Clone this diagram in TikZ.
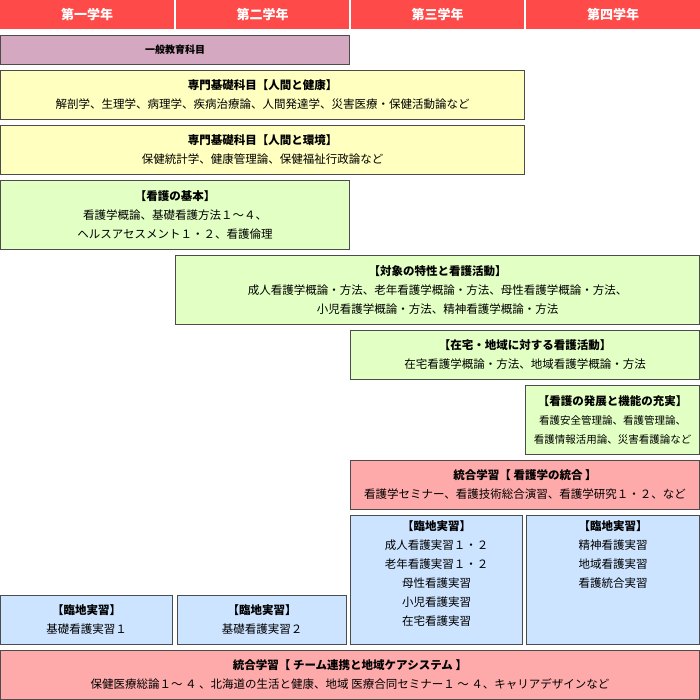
\documentclass[tikz,border=0pt]{standalone}
\usepackage{fontspec}
\setmainfont{Noto Sans CJK JP}
\usetikzlibrary{positioning}
\definecolor{hdred}{HTML}{FF4A4A}
\definecolor{genpink}{HTML}{D5A8C2}
\definecolor{kisoyel}{HTML}{FFFFC0}
\definecolor{kgreen}{HTML}{E2FFC4}
\definecolor{togopink}{HTML}{FFAAAA}
\definecolor{jisblue}{HTML}{CCE4FF}
\tikzset{
  hdr/.style={fill=hdred,text=white,font=\bfseries\fontsize{13}{15}\selectfont},
  course/.style={draw=black!70,line width=0.8pt,align=center,font=\fontsize{11.5}{19}\selectfont},
}
\newcommand{\cbox}[6]{% name, x1, y1, x2, y2, style
  \draw[course,#6] (#2,#3) rectangle (#4,#5);
  \coordinate (#1) at ({(#2+#4)/2},{(#3+#5)/2});}
\begin{document}
\begin{tikzpicture}[x=1pt,y=-1pt]
\useasboundingbox (0,0) rectangle (700,700);
% header
\foreach \xa/\xb/\lab [count=\i] in {0/174/第一学年,176/349/第二学年,351/524/第三学年,526/700/第四学年}
  \node[hdr,minimum width={\xb-\xa},minimum height=29,inner sep=0] (year\i) at ({(\xa+\xb)/2},14.5) {\lab};
% courses
\cbox{gen}{0.5}{35.5}{349.5}{64.5}{fill=genpink}
\node (gentext) at (gen) {\bfseries 一般教育科目};
\cbox{kenko}{0.5}{70.5}{524.5}{119.5}{fill=kisoyel}
\node[course,draw=none] (kenkotext) at (kenko) {\bfseries 専門基礎科目【人間と健康】\\解剖学、生理学、病理学、疾病治療論、人間発達学、災害医療・保健活動論など};
\cbox{kankyo}{0.5}{125.5}{524.5}{174.5}{fill=kisoyel}
\node[course,draw=none] (kankyotext) at (kankyo) {\bfseries 専門基礎科目【人間と環境】\\保健統計学、健康管理論、保健福祉行政論など};
\cbox{kihon}{0.5}{180.5}{349.5}{249.5}{fill=kgreen}
\node[course,draw=none] (kihontext) at (kihon) {\bfseries【看護の基本】\\看護学概論、基礎看護方法１～４、\\ヘルスアセスメント１・２、看護倫理};
\cbox{taisho}{175.5}{255.5}{699.5}{324.5}{fill=kgreen}
\node[course,draw=none] (taishotext) at (taisho) {\bfseries【対象の特性と看護活動】\\成人看護学概論・方法、老年看護学概論・方法、母性看護学概論・方法、\\小児看護学概論・方法、精神看護学概論・方法};
\cbox{zaitaku}{350.5}{330.5}{699.5}{379.5}{fill=kgreen}
\node[course,draw=none] (zaitakutext) at (zaitaku) {\bfseries【在宅・地域に対する看護活動】\\在宅看護学概論・方法、地域看護学概論・方法};
\cbox{hatten}{525.5}{385.5}{699.5}{454.5}{fill=kgreen}
\node[course,draw=none,font=\fontsize{10.5}{19}\selectfont] (hattentext) at (hatten) {\bfseries\fontsize{11.5}{19}\selectfont【看護の発展と機能の充実】\\看護安全管理論、看護管理論、\\看護情報活用論、災害看護論など};
\cbox{togo}{350.5}{460.5}{699.5}{509.5}{fill=togopink}
\node[course,draw=none] (togotext) at (togo) {\bfseries 統合学習【 看護学の統合 】\\看護学セミナー、看護技術総合演習、看護学研究１・２、など};
\cbox{jis3}{350.5}{515.5}{522.5}{644.5}{fill=jisblue}
\node[course,draw=none,anchor=north] (jis3text) at (436.5,517) {\bfseries【臨地実習】\\成人看護実習１・２\\老年看護実習１・２\\母性看護実習\\小児看護実習\\在宅看護実習};
\cbox{jis4}{526.5}{515.5}{699.5}{644.5}{fill=jisblue}
\node[course,draw=none,anchor=north] (jis4text) at (613,517) {\bfseries【臨地実習】\\精神看護実習\\地域看護実習\\看護統合実習};
\cbox{jis1}{0.5}{595.5}{172.5}{644.5}{fill=jisblue}
\node[course,draw=none] (jis1text) at (jis1) {\bfseries【臨地実習】\\基礎看護実習１};
\cbox{jis2}{177.5}{595.5}{346.5}{644.5}{fill=jisblue}
\node[course,draw=none] (jis2text) at (jis2) {\bfseries【臨地実習】\\基礎看護実習２};
\cbox{team}{0.5}{650.5}{699.5}{699.5}{fill=togopink}
\node[course,draw=none] (teamtext) at (team) {\bfseries 統合学習【 チーム連携と地域ケアシステム 】\\保健医療総論１～ ４ 、北海道の生活と健康、地域 医療合同セミナー１ ～ ４、キャリアデザインなど};
\end{tikzpicture}
\end{document}
